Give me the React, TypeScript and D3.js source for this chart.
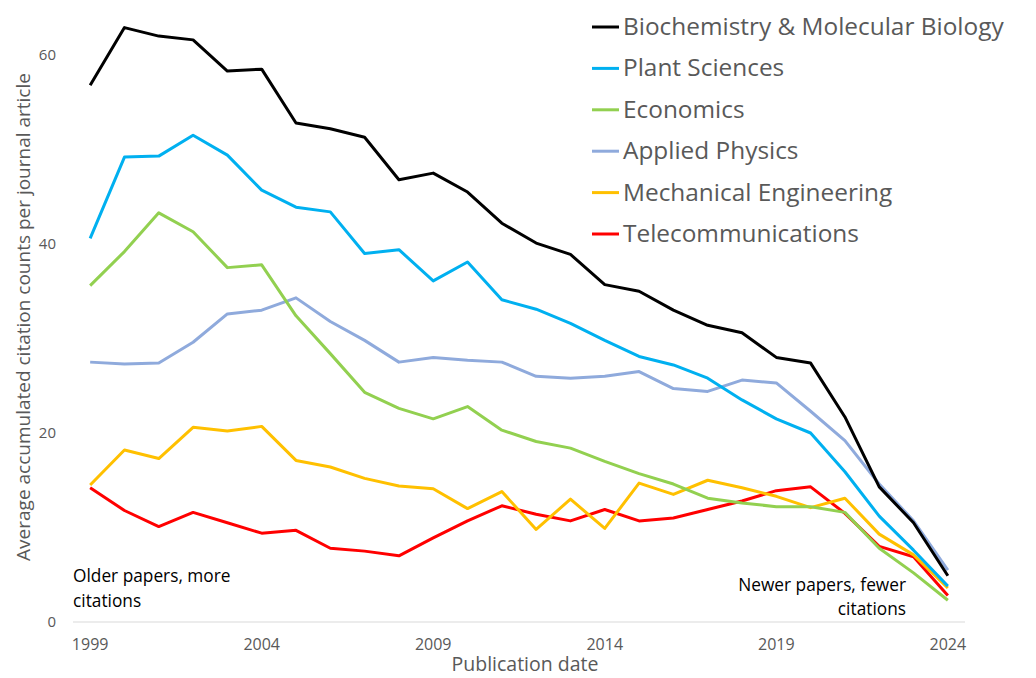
import { scaleLinear, line } from "d3";

const width = 1036;
const height = 678;

const years = Array.from(Array(26).keys()).map((i) => 1999 + i);
const xTicks = [1999, 2004, 2009, 2014, 2019, 2024];
const yTicks = [0, 20, 40, 60];

const biochemistry = [
  56.8, 62.9, 62.0, 61.6, 58.3, 58.5, 52.8, 52.2, 51.3, 46.8, 47.5, 45.5, 42.2,
  40.1, 38.9, 35.7, 35.0, 33.0, 31.4, 30.6, 28.0, 27.4, 21.7, 14.3, 10.5, 4.9,
];
const plantSciences = [
  40.6, 49.2, 49.3, 51.5, 49.4, 45.7, 43.9, 43.4, 39.0, 39.4, 36.1, 38.1, 34.1,
  33.1, 31.6, 29.8, 28.1, 27.2, 25.8, 23.5, 21.5, 20.0, 15.9, 11.2, 7.6, 3.8,
];
const economics = [
  35.6, 39.2, 43.3, 41.3, 37.5, 37.8, 32.4, 28.4, 24.3, 22.6, 21.5, 22.8, 20.3,
  19.1, 18.4, 17.0, 15.7, 14.6, 13.1, 12.6, 12.2, 12.2, 11.6, 7.8, 5.2, 2.3,
];
const appliedPhysics = [
  27.5, 27.3, 27.4, 29.6, 32.6, 33.0, 34.3, 31.8, 29.8, 27.5, 28.0, 27.7, 27.5,
  26.0, 25.8, 26.0, 26.5, 24.7, 24.4, 25.6, 25.3, 22.3, 19.2, 14.6, 10.7, 5.5,
];
const mechanicalEngineering = [
  14.5, 18.2, 17.3, 20.6, 20.2, 20.7, 17.1, 16.4, 15.2, 14.4, 14.1, 12.0, 13.8,
  9.8, 13.0, 9.9, 14.7, 13.5, 15.0, 14.2, 13.3, 12.1, 13.1, 9.3, 7.1, 3.6,
];
const telecommunications = [
  14.2, 11.8, 10.1, 11.6, 10.5, 9.4, 9.7, 7.8, 7.5, 7.0, 8.9, 10.7, 12.3, 11.4,
  10.7, 11.9, 10.7, 11.0, 11.9, 12.8, 13.9, 14.3, 11.5, 8.0, 6.9, 2.8,
];

const seriesNames = [
  "Biochemistry & Molecular Biology",
  "Plant Sciences",
  "Economics",
  "Applied Physics",
  "Mechanical Engineering",
  "Telecommunications",
];
const seriesValues = [
  biochemistry,
  plantSciences,
  economics,
  appliedPhysics,
  mechanicalEngineering,
  telecommunications,
];
const seriesColors = ["#000000", "#00b0f0", "#92d050", "#8faadc", "#ffc000", "#ff0000"];

const font = "'Open Sans', 'Noto Sans', sans-serif";
const grey = "#595959";

const x = scaleLinear().domain([1998.5, 2024.5]).range([73, 965]);
const y = scaleLinear().domain([0, 60]).range([622, 55]);

export default function App() {
  const path = line<number>()
    .x((_, i) => x(years[i]))
    .y((d) => y(d));

  // draw order: bottom series first so black ends on top
  const order = [5, 4, 3, 2, 1, 0];

  return (
    <svg
      width={width}
      height={height}
      style={{ position: "absolute", left: 0, top: 0, background: "white" }}
      fontFamily={font}
    >
      <rect width={width} height={height} fill="white" />
      {/* x axis line */}
      <line x1={73} x2={965} y1={y(0)} y2={y(0)} stroke="#d9d9d9" strokeWidth={1} />
      {xTicks.map((t) => (
        <text key={t} x={x(t)} y={y(0) + 28} textAnchor="middle" fontSize={16} fill={grey}>
          {t}
        </text>
      ))}
      {yTicks.map((t) => (
        <text key={t} x={56} y={y(t) + 5} textAnchor="end" fontSize={15} fill={grey}>
          {t}
        </text>
      ))}
      <text x={525} y={671} textAnchor="middle" fontSize={19.5} fill={grey}>
        Publication date
      </text>
      <text
        transform={`translate(30, 317) rotate(-90)`}
        textAnchor="middle"
        fontSize={19}
        fill={grey}
      >
        Average accumulated citation counts per journal article
      </text>

      {order.map((k) => (
        <path
          key={seriesNames[k]}
          d={path(seriesValues[k]) || ""}
          fill="none"
          stroke={seriesColors[k]}
          strokeWidth={3}
          strokeLinejoin="round"
        />
      ))}

      {/* annotations */}
      <text x={73} y={582} fontSize={17.3} fill="#000">
        Older papers, more
      </text>
      <text x={73} y={607} fontSize={17.3} fill="#000">
        citations
      </text>
      <text x={906} y={591} textAnchor="end" fontSize={17.3} fill="#000">
        Newer papers, fewer
      </text>
      <text x={906} y={615} textAnchor="end" fontSize={17.3} fill="#000">
        citations
      </text>

      {/* legend */}
      {seriesNames.map((name, i) => {
        const ly = 27 + i * 41.4;
        return (
          <g key={name}>
            <line x1={592} x2={619} y1={ly} y2={ly} stroke={seriesColors[i]} strokeWidth={3} />
            <text x={623} y={ly + 8} fontSize={24.4} fill={grey}>
              {name}
            </text>
          </g>
        );
      })}
    </svg>
  );
}
